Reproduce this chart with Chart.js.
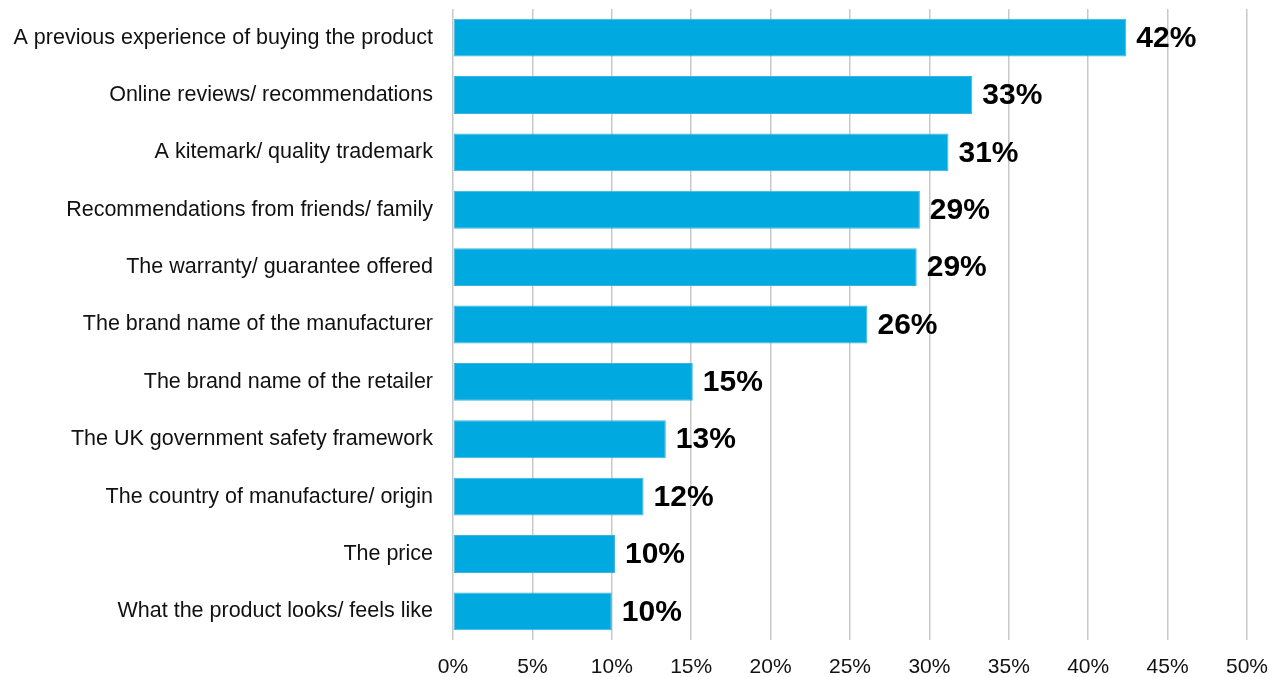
<!DOCTYPE html>
<html>
<head>
<meta charset="utf-8">
<script src="https://cdn.jsdelivr.net/npm/chart.js@4/dist/chart.umd.min.js"></script>
<style>
    html, body {
        margin: 0;
        padding: 0;
        background: #ffffff;
    }

    #wrap {
        width: 1274px;
        height: 677px;
    }
</style>
</head>
<body>

<div id="wrap">
    <canvas id="influenceChart"></canvas>
</div>

<script>

// ==========================
// DATOS
// ==========================

const categorias = [
    "A previous experience of buying the product",
    "Online reviews/ recommendations",
    "A kitemark/ quality trademark",
    "Recommendations from friends/ family",
    "The warranty/ guarantee offered",
    "The brand name of the manufacturer",
    "The brand name of the retailer",
    "The UK government safety framework",
    "The country of manufacture/ origin",
    "The price",
    "What the product looks/ feels like"
];

const porcentajes = [
    42.4, 32.7, 31.2, 29.4, 29.2, 26.1, 15.1, 13.4, 12.0, 10.2, 10.0
];

const ticksEje = [0, 5, 10, 15, 20, 25, 30, 35, 40, 45, 50];


// ==========================
// ETIQUETAS AL FINAL DE BARRA
// ==========================

const etiquetasValor = {

    id: "etiquetasValor",

    afterDatasetsDraw(chart) {

        const ctx = chart.ctx;
        const meta = chart.getDatasetMeta(0);

        ctx.save();
        ctx.font = "bold 30px 'Liberation Sans', Arial, sans-serif";
        ctx.fillStyle = "#000000";
        ctx.textAlign = "left";
        ctx.textBaseline = "middle";

        meta.data.forEach((bar, i) => {

            const valor = chart.data.datasets[0].data[i];

            ctx.fillText(
                Math.round(valor) + "%",
                bar.x + 10,
                bar.y + 1
            );

        });

        ctx.restore();

    }

};


// ==========================
// GRAFICO
// ==========================

const canvas =
document.getElementById("influenceChart");

new Chart(canvas, {

    type: "bar",

    data: {

        labels: categorias,

        datasets: [

            {

                data: porcentajes,

                backgroundColor: "#00a9e0",

                borderColor: "#3db3dc",

                borderWidth: 1,

                borderSkipped: false,

                barPercentage: 0.66,

                categoryPercentage: 1

            }

        ]

    },

    options: {

        indexAxis: "y",

        responsive: true,

        maintainAspectRatio: false,

        animation: false,

        layout: {

            padding: {
                top: 9,
                right: 27,
                bottom: 0,
                left: 0
            }

        },

        plugins: {

            legend: {
                display: false
            },

            tooltip: {
                enabled: false
            }

        },

        scales: {

            x: {

                min: 0,

                max: 50,

                afterBuildTicks(scale) {
                    scale.ticks = ticksEje.map(v => ({ value: v }));
                },

                afterFit(scale) {
                    scale.height = 37;
                    scale.paddingLeft = 0;
                    scale.paddingRight = 0;
                },

                grid: {
                    color: "#c8c8c8",
                    lineWidth: 1.5,
                    drawTicks: false
                },

                border: {
                    display: false
                },

                ticks: {

                    padding: 15,

                    color: "#111111",

                    font: {
                        family: "'Liberation Sans', Arial, sans-serif",
                        size: 21
                    },

                    callback: value => value + "%"

                }

            },

            y: {

                afterFit(scale) {
                    scale.width = 453;
                    scale.paddingTop = 0;
                    scale.paddingBottom = 0;
                },

                grid: {
                    display: false,
                    drawTicks: false
                },

                border: {
                    display: false
                },

                ticks: {

                    padding: 20,

                    color: "#111111",

                    font: {
                        family: "'Liberation Sans', Arial, sans-serif",
                        size: 21.5
                    }

                }

            }

        }

    },

    plugins: [etiquetasValor]

});

</script>

</body>
</html>
